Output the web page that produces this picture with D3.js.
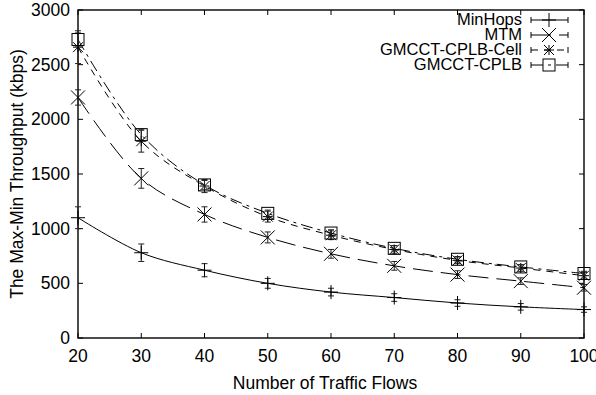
<!DOCTYPE html>
<html>
<head>
<meta charset="utf-8">
<script src="https://cdn.jsdelivr.net/npm/d3@7"></script>
<style>
  body { margin: 0; background: #fff; }
  svg { display: block; font-family: "Liberation Sans", Arial, sans-serif; }
</style>
</head>
<body>
<svg width="596" height="395"></svg>
<script>
// Data
const flows = [20, 30, 40, 50, 60, 70, 80, 90, 100];
const seriesNames = ["MinHops", "MTM", "GMCCT-CPLB-Cell", "GMCCT-CPLB"];

const minHops    = [1100, 780, 620, 500, 420, 370, 320, 285, 260];
const minHopsErr = [100, 80, 60, 45, 35, 35, 30, 30, 25];
const mtm        = [2200, 1460, 1130, 920, 770, 660, 580, 520, 460];
const mtmErr     = [70, 90, 70, 50, 40, 40, 35, 30, 30];
const cell       = [2660, 1800, 1390, 1110, 940, 810, 710, 640, 570];
const cellErr    = [150, 100, 60, 50, 40, 35, 30, 30, 30];
const cplb       = [2730, 1860, 1400, 1140, 960, 820, 720, 650, 590];
const cplbErr    = [60, 50, 40, 30, 30, 25, 25, 20, 20];

const yTicks = [0, 500, 1000, 1500, 2000, 2500, 3000];
const xTicks = flows;

const svg = d3.select("svg");
const pLeft = 78, pRight = 584, pTop = 10, pBottom = 338;

const x = d3.scaleLinear().domain([20, 100]).range([pLeft, pRight]);
const y = d3.scaleLinear().domain([0, 3000]).range([pBottom, pTop]);

// series table built from the arrays
const series = [
  { name: seriesNames[0], vals: minHops, err: minHopsErr, dash: null, mark: "plus" },
  { name: seriesNames[1], vals: mtm, err: mtmErr, dash: "20,8", mark: "cross" },
  { name: seriesNames[2], vals: cell, err: cellErr, dash: "7,6", mark: "star" },
  { name: seriesNames[3], vals: cplb, err: cplbErr, dash: "12,5,3,5", mark: "square" }
];

// frame
svg.append("rect")
  .attr("x", pLeft).attr("y", pTop)
  .attr("width", pRight - pLeft).attr("height", pBottom - pTop)
  .attr("fill", "none").attr("stroke", "#000").attr("stroke-width", 1.4);

// ticks (inward, mirrored)
const tk = 5;
const g = svg.append("g").attr("stroke", "#000").attr("stroke-width", 1);
yTicks.forEach(v => {
  g.append("line").attr("x1", pLeft).attr("x2", pLeft + tk).attr("y1", y(v)).attr("y2", y(v));
  g.append("line").attr("x1", pRight).attr("x2", pRight - tk).attr("y1", y(v)).attr("y2", y(v));
});
xTicks.forEach(v => {
  g.append("line").attr("x1", x(v)).attr("x2", x(v)).attr("y1", pBottom).attr("y2", pBottom - tk);
  g.append("line").attr("x1", x(v)).attr("x2", x(v)).attr("y1", pTop).attr("y2", pTop + tk);
});

// tick labels
svg.selectAll(".ylab").data(yTicks).enter().append("text")
  .attr("x", pLeft - 8).attr("y", d => y(d) + 6)
  .attr("text-anchor", "end").attr("font-size", 17.5).text(d => d);
svg.selectAll(".xlab").data(xTicks).enter().append("text")
  .attr("x", d => x(d)).attr("y", pBottom + 24)
  .attr("text-anchor", "middle").attr("font-size", 17.5).text(d => d);

// axis titles
svg.append("text").attr("x", (pLeft + pRight) / 2 - 6).attr("y", 389)
  .attr("text-anchor", "middle").attr("font-size", 17.5).text("Number of Traffic Flows");
svg.append("text").attr("transform", `translate(23,${(pTop + pBottom) / 2}) rotate(-90)`)
  .attr("text-anchor", "middle").attr("font-size", 17.5).text("The Max-Min Throughput (kbps)");

// marker drawing
function marker(sel, kind, cx, cy) {
  const s = 7;
  if (kind === "plus") {
    sel.append("path").attr("d", `M${cx - s},${cy}H${cx + s}M${cx},${cy - s}V${cy + s}`);
  } else if (kind === "cross") {
    sel.append("path").attr("d", `M${cx - s},${cy - s}L${cx + s},${cy + s}M${cx - s},${cy + s}L${cx + s},${cy - s}`);
  } else if (kind === "star") {
    const a = 5;
    sel.append("path").attr("d", `M${cx - a},${cy}H${cx + a}M${cx},${cy - a}V${cy + a}M${cx - a},${cy - a}L${cx + a},${cy + a}M${cx - a},${cy + a}L${cx + a},${cy - a}`);
  } else {
    const a = 6;
    sel.append("rect").attr("x", cx - a).attr("y", cy - a).attr("width", 2 * a).attr("height", 2 * a).attr("fill", "none");
  }
}

const line = d3.line().x(d => x(d[0])).y(d => y(d[1])).curve(d3.curveCatmullRom);

series.forEach(s => {
  const pts = flows.map((f, i) => [f, s.vals[i], s.err[i]]);
  const sg = svg.append("g").attr("stroke", "#000").attr("fill", "none").attr("stroke-width", 1);
  sg.append("path").datum(pts).attr("d", line).attr("stroke-dasharray", s.dash);
  pts.forEach(p => {
    const cx = x(p[0]);
    sg.append("path").attr("stroke", "#222")
      .attr("d", `M${cx},${y(p[1] - p[2])}V${y(p[1] + p[2])}M${cx - 3},${y(p[1] - p[2])}H${cx + 3}M${cx - 3},${y(p[1] + p[2])}H${cx + 3}`);
    marker(sg, s.mark, cx, y(p[1]));
  });
});

// legend
const lx1 = 531, lx2 = 568, lcx = 549;
series.forEach((s, i) => {
  const ly = 20 + i * 15;
  svg.append("text").attr("x", 522).attr("y", ly + 5)
    .attr("text-anchor", "end").attr("font-size", 16.5).text(s.name);
  const lg = svg.append("g").attr("stroke", "#000").attr("fill", "none").attr("stroke-width", 1);
  lg.append("path").attr("d", `M${lx1},${ly}H${lx2}`).attr("stroke-dasharray", s.dash);
  lg.append("path").attr("d", `M${lx1},${ly - 3}V${ly + 3}M${lx2},${ly - 3}V${ly + 3}`);
  marker(lg, s.mark, lcx, ly);
});
</script>
</body>
</html>
